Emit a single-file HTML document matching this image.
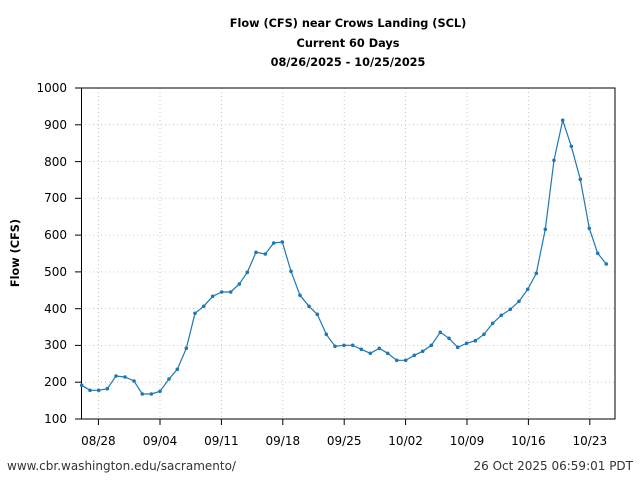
<!DOCTYPE html>
<html><head><meta charset="utf-8"><style>
html,body{margin:0;padding:0;background:#fff;}
svg{display:block;font-family:"DejaVu Sans","Liberation Sans",sans-serif;}
</style></head><body>
<svg width="640" height="480" viewBox="0 0 640 480" xmlns="http://www.w3.org/2000/svg">
<rect width="640" height="480" fill="#fff"/>
<g font-size="11.3" font-weight="bold" text-anchor="middle" fill="#000">
<text x="348" y="27">Flow (CFS) near Crows Landing (SCL)</text>
<text x="348" y="47">Current 60 Days</text>
<text x="348" y="66">08/26/2025 - 10/25/2025</text>
</g>
<g stroke="#bbb" stroke-width="0.8" stroke-dasharray="1,3">
<line x1="81" x2="615" y1="124.8" y2="124.8"/><line x1="81" x2="615" y1="161.6" y2="161.6"/>
<line x1="81" x2="615" y1="198.3" y2="198.3"/><line x1="81" x2="615" y1="235.1" y2="235.1"/>
<line x1="81" x2="615" y1="271.9" y2="271.9"/><line x1="81" x2="615" y1="308.7" y2="308.7"/>
<line x1="81" x2="615" y1="345.4" y2="345.4"/><line x1="81" x2="615" y1="382.2" y2="382.2"/>
<line y1="88" y2="419" x1="98.4" x2="98.4"/><line y1="88" y2="419" x1="160" x2="160"/>
<line y1="88" y2="419" x1="221.4" x2="221.4"/><line y1="88" y2="419" x1="282.8" x2="282.8"/>
<line y1="88" y2="419" x1="344.2" x2="344.2"/><line y1="88" y2="419" x1="405.6" x2="405.6"/>
<line y1="88" y2="419" x1="467" x2="467" /><line y1="88" y2="419" x1="528.4" x2="528.4"/>
<line y1="88" y2="419" x1="589.8" x2="589.8"/>
</g>
<rect x="81.5" y="88" width="533.5" height="331" fill="none" stroke="#000" stroke-width="1"/>
<g stroke="#000" stroke-width="1">
<line x1="75" x2="81" y1="88" y2="88"/><line x1="75" x2="81" y1="124.8" y2="124.8"/><line x1="75" x2="81" y1="161.6" y2="161.6"/><line x1="75" x2="81" y1="198.3" y2="198.3"/><line x1="75" x2="81" y1="235.1" y2="235.1"/><line x1="75" x2="81" y1="271.9" y2="271.9"/><line x1="75" x2="81" y1="308.7" y2="308.7"/><line x1="75" x2="81" y1="345.4" y2="345.4"/><line x1="75" x2="81" y1="382.2" y2="382.2"/><line x1="75" x2="81" y1="419" y2="419"/>
<line y1="419" y2="425" x1="98.4" x2="98.4"/><line y1="419" y2="425" x1="160" x2="160"/><line y1="419" y2="425" x1="221.4" x2="221.4"/><line y1="419" y2="425" x1="282.8" x2="282.8"/><line y1="419" y2="425" x1="344.2" x2="344.2"/><line y1="419" y2="425" x1="405.6" x2="405.6"/><line y1="419" y2="425" x1="467" x2="467"/><line y1="419" y2="425" x1="528.4" x2="528.4"/><line y1="419" y2="425" x1="589.8" x2="589.8"/>
</g>
<g font-size="12" text-anchor="end" fill="#000">
<text x="67" y="92">1000</text><text x="67" y="129">900</text><text x="67" y="166">800</text><text x="67" y="202">700</text><text x="67" y="239">600</text><text x="67" y="276">500</text><text x="67" y="313">400</text><text x="67" y="349">300</text><text x="67" y="386">200</text><text x="67" y="423">100</text>
</g>
<g font-size="12" text-anchor="middle" fill="#000">
<text x="98.4" y="445">08/28</text><text x="160" y="445">09/04</text><text x="221.4" y="445">09/11</text><text x="282.8" y="445">09/18</text><text x="344.2" y="445">09/25</text><text x="405.6" y="445">10/02</text><text x="467" y="445">10/09</text><text x="528.4" y="445">10/16</text><text x="589.8" y="445">10/23</text>
</g>
<text x="19" y="253" font-size="11.3" font-weight="bold" text-anchor="middle" transform="rotate(-90 19 253)">Flow (CFS)</text>
<g font-size="12" fill="#333">
<text x="7" y="470">www.cbr.washington.edu/sacramento/</text>
<text x="633" y="470" text-anchor="end">26 Oct 2025 06:59:01 PDT</text>
</g>
<polyline fill="none" stroke="#1f77b4" stroke-width="1.2" points="81.7,385.3 90,390.3 98.7,390.3 107.3,388.7 116,376 125,377 134,381 142.3,394 151.3,394 160,391.3 169,379 177.3,369.3 186.3,348.3 195,313.3 203.7,306.3 212.7,296.3 221.7,292 230.7,292 239.3,284 247.3,272.3 256,252.3 265.3,254 273.7,243 282.3,242 291,271.3 300,295.3 309,306.3 317.3,314.3 326.3,334.3 335,346.3 344,345.3 352.7,345.3 361.3,349.3 370.3,353.3 379.3,348.3 387.7,353.3 396.7,360.3 405.7,360.3 414.3,355.3 422.7,351.3 431.3,345.3 440.3,332.3 449,338.3 457.7,347.3 466.7,343.3 475.3,340.7 484,334.3 492.7,323.3 501.3,315.3 510.3,309.3 519,301.3 527.7,289.3 536.3,273.3 545.3,229.3 554,160.3 562.7,120.3 571.3,146.3 580.3,179.3 589.3,228.3 597.7,253.3 606.3,264"/>
<g fill="#1f77b4">
<circle cx="81.7" cy="385.3" r="1.8"/><circle cx="90" cy="390.3" r="1.8"/><circle cx="98.7" cy="390.3" r="1.8"/><circle cx="107.3" cy="388.7" r="1.8"/><circle cx="116" cy="376" r="1.8"/><circle cx="125" cy="377" r="1.8"/><circle cx="134" cy="381" r="1.8"/><circle cx="142.3" cy="394" r="1.8"/><circle cx="151.3" cy="394" r="1.8"/><circle cx="160" cy="391.3" r="1.8"/><circle cx="169" cy="379" r="1.8"/><circle cx="177.3" cy="369.3" r="1.8"/><circle cx="186.3" cy="348.3" r="1.8"/><circle cx="195" cy="313.3" r="1.8"/><circle cx="203.7" cy="306.3" r="1.8"/><circle cx="212.7" cy="296.3" r="1.8"/><circle cx="221.7" cy="292" r="1.8"/><circle cx="230.7" cy="292" r="1.8"/><circle cx="239.3" cy="284" r="1.8"/><circle cx="247.3" cy="272.3" r="1.8"/><circle cx="256" cy="252.3" r="1.8"/><circle cx="265.3" cy="254" r="1.8"/><circle cx="273.7" cy="243" r="1.8"/><circle cx="282.3" cy="242" r="1.8"/><circle cx="291" cy="271.3" r="1.8"/><circle cx="300" cy="295.3" r="1.8"/><circle cx="309" cy="306.3" r="1.8"/><circle cx="317.3" cy="314.3" r="1.8"/><circle cx="326.3" cy="334.3" r="1.8"/><circle cx="335" cy="346.3" r="1.8"/><circle cx="344" cy="345.3" r="1.8"/><circle cx="352.7" cy="345.3" r="1.8"/><circle cx="361.3" cy="349.3" r="1.8"/><circle cx="370.3" cy="353.3" r="1.8"/><circle cx="379.3" cy="348.3" r="1.8"/><circle cx="387.7" cy="353.3" r="1.8"/><circle cx="396.7" cy="360.3" r="1.8"/><circle cx="405.7" cy="360.3" r="1.8"/><circle cx="414.3" cy="355.3" r="1.8"/><circle cx="422.7" cy="351.3" r="1.8"/><circle cx="431.3" cy="345.3" r="1.8"/><circle cx="440.3" cy="332.3" r="1.8"/><circle cx="449" cy="338.3" r="1.8"/><circle cx="457.7" cy="347.3" r="1.8"/><circle cx="466.7" cy="343.3" r="1.8"/><circle cx="475.3" cy="340.7" r="1.8"/><circle cx="484" cy="334.3" r="1.8"/><circle cx="492.7" cy="323.3" r="1.8"/><circle cx="501.3" cy="315.3" r="1.8"/><circle cx="510.3" cy="309.3" r="1.8"/><circle cx="519" cy="301.3" r="1.8"/><circle cx="527.7" cy="289.3" r="1.8"/><circle cx="536.3" cy="273.3" r="1.8"/><circle cx="545.3" cy="229.3" r="1.8"/><circle cx="554" cy="160.3" r="1.8"/><circle cx="562.7" cy="120.3" r="1.8"/><circle cx="571.3" cy="146.3" r="1.8"/><circle cx="580.3" cy="179.3" r="1.8"/><circle cx="589.3" cy="228.3" r="1.8"/><circle cx="597.7" cy="253.3" r="1.8"/><circle cx="606.3" cy="264" r="1.8"/>
</g>
</svg>
</body></html>
